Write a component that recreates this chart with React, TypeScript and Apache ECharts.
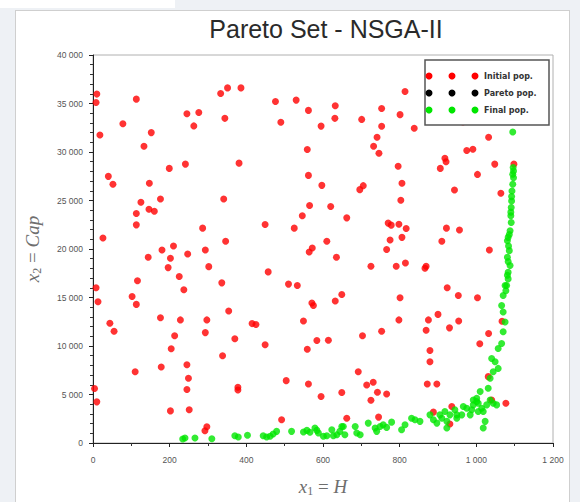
import React, { useEffect, useRef } from 'react';
import * as echarts from 'echarts';

const chartTitle = 'Pareto Set - NSGA-II';
const legendLabels = ['Initial pop.', 'Pareto pop.', 'Final pop.'];
const legendColors = ['#ff0000', '#000000', '#00e600'];

const initialH = [
  10, 8, 18, 113, 78, 152, 133, 245, 276, 263, 333, 351, 386, 344, 476, 530, 562, 490, 595, 559,
  40, 52, 199, 241, 381, 147, 562, 597, 125, 176, 113, 146, 160, 341, 565, 546, 113, 286, 449, 525,
  26, 346, 210, 180, 293, 572, 144, 202, 247, 196, 302, 225, 116, 237, 336, 457, 564, 8, 13, 102,
  113, 510, 533, 176, 228, 297, 354, 44, 55, 293, 213, 415, 425, 549, 571, 575, 370, 204, 449, 559,
  584, 338, 245, 178, 110, 249, 245, 378, 378, 504, 562, 595, 4, 10, 202, 251, 492, 297, 292, 814,
  632, 631, 753, 801, 701, 753, 838, 741, 732, 746, 1032, 975, 991, 918, 921, 906, 1048, 1098, 1003, 796,
  806, 696, 705, 943, 1064, 803, 620, 662, 770, 778, 798, 817, 922, 956, 610, 775, 806, 910, 766, 1034,
  965, 635, 725, 791, 815, 866, 869, 924, 953, 1003, 632, 649, 801, 798, 875, 900, 954, 930, 869, 753,
  703, 614, 1032, 1009, 879, 879, 692, 714, 731, 742, 766, 725, 872, 897, 649, 662, 745, 1040, 1077, 931,
  1031, 1067, 936, 888,
];
const initialCap = [
  35970, 35100, 31760, 35450, 32920, 32000, 30590, 33950, 34080, 32690, 36030, 36610, 36610, 33470, 35210, 35350, 34290, 33060, 32670, 30260,
  27490, 26670, 28310, 28750, 28850, 26770, 27590, 26560, 24820, 25160, 23660, 24100, 23900, 25160, 24480, 23420, 22490, 22150, 22530, 22150,
  21130, 20790, 20310, 19900, 19900, 20100, 19150, 19050, 19490, 18080, 18180, 17160, 16720, 15800, 16510, 17640, 19690, 16000, 14560, 15110,
  14290, 16380, 16240, 12920, 12690, 12690, 13610, 12340, 11520, 11380, 11050, 12310, 12210, 12580, 14430, 14180, 10740, 9710, 10120, 9670,
  10560, 9000, 8070, 7830, 7350, 6670, 5510, 5740, 5470, 6430, 6080, 4790, 5610, 4240, 3310, 3420, 2390, 1670, 1260, 36240,
  34770, 33470, 34490, 33850, 33360, 32650, 32440, 31520, 30590, 29880, 31520, 30150, 30290, 29360, 29000, 28310, 28750, 28750, 27690, 28540,
  26770, 26120, 26530, 26080, 25740, 25030, 24380, 23210, 22670, 22460, 22560, 22120, 22150, 21950, 20790, 20920, 21200, 20790, 19950, 19900,
  33100, 19150, 18230, 18230, 18560, 18020, 18230, 16000, 15210, 14970, 14640, 15310, 14970, 12690, 12690, 13260, 12580, 11870, 11620, 11520,
  11050, 10600, 11280, 10230, 9540, 8380, 7350, 5980, 6260, 5230, 5060, 4410, 6080, 6080, 5200, 2560, 2670, 4440, 4100, 1950,
  6840, 12560, 3760, 3180,
];

const paretoH: number[] = [];
const paretoCap: number[] = [];

const finalH = [
  234, 240, 266, 310, 370, 379, 403, 444, 453, 462, 470, 479, 518, 549, 558, 566, 579, 584, 588, 601,
  610, 623, 627, 636, 644, 653, 657, 649, 684, 688, 697, 718, 736, 740, 749, 757, 766, 779, 805, 814,
  831, 840, 853, 879, 888, 897, 905, 910, 918, 923, 931, 923, 944, 949, 962, 975, 988, 992, 1001, 1005,
  949, 966, 984, 992, 1001, 1005, 1010, 1014, 1018, 1023, 1018, 1027, 1036, 1044, 1053, 1031, 1036, 1044, 1049, 1040,
  1057, 1057, 1066, 1070, 1075, 1070, 1066, 1070, 1079, 1083, 1095, 1097, 1097, 1095, 1093, 1092, 1091, 1090, 1091, 1088,
  1083, 1081, 1086, 1081, 1088, 1083, 1075, 1096, 1095, 1092, 1090, 1086, 1084, 1083, 1081, 1077,
];
const finalCap = [
  410, 510, 510, 440, 750, 620, 790, 750, 620, 690, 920, 1200, 1200, 1130, 1300, 1100, 1540, 1300, 1030, 690,
  750, 1360, 750, 850, 1200, 1710, 850, 1710, 1710, 1030, 850, 2050, 1540, 1200, 1710, 1880, 1610, 2150, 1360, 1880,
  2560, 2390, 2230, 2900, 2390, 2050, 2900, 2560, 3250, 2230, 2900, 1540, 3420, 2560, 2900, 3590, 3420, 3930, 4280, 3250,
  2900, 3760, 2900, 4440, 4620, 4100, 5300, 3590, 3250, 2230, 1540, 3930, 4440, 4100, 3930, 5640, 6670, 7350, 8380, 8720,
  7690, 9740, 10260, 11460, 12480, 13510, 14180, 15210, 16240, 16920, 32070, 28030, 27350, 26670, 25980, 24950, 24280, 23420, 22740, 21880,
  21200, 20850, 19830, 19150, 18290, 17610, 16240, 28400, 27700, 25400, 23800, 21500, 20300, 18700, 17300, 15700,
];

const zip = (a: number[], b: number[]) => a.map((v, i) => [v, b[i]]);
const fmt = (v: number) => String(v).replace(/\B(?=(\d{3})+(?!\d))/g, ' ');

const nameColor = '#6e6e6e';
const nameRich = {
  v: { fontFamily: 'Liberation Serif', fontStyle: 'italic', fontSize: 19, color: nameColor },
  n: { fontFamily: 'Liberation Serif', fontSize: 19, color: nameColor },
  s: { fontFamily: 'Liberation Serif', fontSize: 12, color: nameColor, padding: [9, 0, 0, 0] },
};

export default function App() {
  const ref = useRef<HTMLDivElement>(null);
  useEffect(() => {
    if (!ref.current) return;
    const chart = echarts.init(ref.current, null, { renderer: 'svg' });
    const axisCommon = {
      type: 'value' as const,
      axisLine: { show: true, onZero: false, lineStyle: { color: '#222', width: 1 } },
      axisTick: { show: true, length: 4, lineStyle: { color: '#222' } },
      splitLine: { show: false },
      nameLocation: 'middle' as const,
      nameTextStyle: { rich: nameRich },
    };
    const legendItems: any[] = [
      {
        type: 'rect',
        z: 100,
        shape: { x: 425, y: 60, width: 124, height: 65 },
        style: { fill: '#ffffff', stroke: '#555', lineWidth: 1.5 },
      },
    ];
    legendLabels.forEach((label, i) => {
      const cy = 76 + i * 17;
      [429, 452, 475].forEach((cx) => {
        legendItems.push({
          type: 'circle',
          z: 101,
          shape: { cx, cy, r: 3.5 },
          style: { fill: legendColors[i] },
        });
      });
      legendItems.push({
        type: 'text',
        z: 101,
        x: 484,
        y: cy,
        style: {
          text: label,
          fontFamily: 'DejaVu Sans',
          fontSize: 8,
          fontWeight: 'bold',
          fill: '#333',
          align: 'left',
          verticalAlign: 'middle',
        },
      });
    });

    chart.setOption({
      animation: false,
      title: {
        text: chartTitle,
        left: 326,
        top: 16,
        padding: 0,
        textAlign: 'center',
        textStyle: { fontFamily: 'Liberation Sans', fontSize: 25, fontWeight: 'normal', color: '#2a2a2a' },
      },
      grid: {
        left: 93,
        right: 27,
        top: 55,
        bottom: 57,
        show: true,
        borderColor: '#b0b0b0',
        borderWidth: 1,
        backgroundColor: '#ffffff',
      },
      xAxis: {
        ...axisCommon,
        min: 0,
        max: 1200,
        interval: 200,
        minorTick: { show: true, splitNumber: 2, length: 3, lineStyle: { color: '#333' } },
        axisLabel: { fontFamily: 'Liberation Sans', fontSize: 8.5, color: '#555', margin: 12, formatter: fmt },
        name: '{v|x}{s|1}{n| = }{v|H}',
        nameGap: 33,
      },
      yAxis: {
        ...axisCommon,
        min: 0,
        max: 40000,
        interval: 5000,
        minorTick: { show: true, splitNumber: 5, length: 3, lineStyle: { color: '#333' } },
        axisLabel: { fontFamily: 'Liberation Sans', fontSize: 8.5, color: '#555', margin: 10, formatter: fmt },
        name: '{v|x}{s|2}{n| = }{v|Cap}',
        nameGap: 50,
      },
      series: [
        {
          type: 'scatter',
          name: legendLabels[0],
          data: zip(initialH, initialCap),
          symbol: 'circle',
          symbolSize: 7,
          itemStyle: { color: legendColors[0] },
        },
        {
          type: 'scatter',
          name: legendLabels[1],
          data: zip(paretoH, paretoCap),
          symbol: 'circle',
          symbolSize: 7,
          itemStyle: { color: legendColors[1] },
        },
        {
          type: 'scatter',
          name: legendLabels[2],
          data: zip(finalH, finalCap),
          symbol: 'circle',
          symbolSize: 7,
          itemStyle: { color: legendColors[2] },
        },
      ],
      graphic: legendItems,
    });
    return () => chart.dispose();
  }, []);

  return (
    <div style={{ position: 'fixed', left: 0, top: 0, width: 580, height: 502, background: '#eef1f5', overflow: 'hidden' }}>
      <div style={{ position: 'absolute', left: 0, top: 0, width: 175, height: 8, background: '#ffffff' }} />
      <div
        style={{
          position: 'absolute',
          left: 15,
          top: 10,
          width: 555,
          height: 494,
          background: '#ffffff',
          border: '1px solid #cfcfcf',
          boxSizing: 'border-box',
        }}
      />
      <div ref={ref} style={{ position: 'absolute', left: 0, top: 0, width: 580, height: 502 }} />
    </div>
  );
}
